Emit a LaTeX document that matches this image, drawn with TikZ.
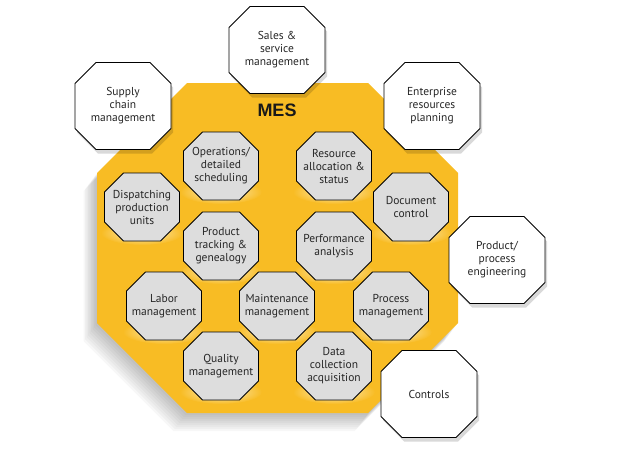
\documentclass[tikz,border=0pt]{standalone}
\usepackage{fontspec}
\setmainfont{PT Sans}
\newfontfamily\mesfont{Liberation Sans}
\usetikzlibrary{shadows,calc}
\definecolor{mesyellow}{HTML}{F8BC24}
\definecolor{modgray}{HTML}{DDDDDD}
\definecolor{glowyellow}{HTML}{FDF0CC}
\pgfdeclarelayer{back}
\pgfsetlayers{back,main}

% octagon box: a rectangle with cut corners
\makeatletter
\pgfkeys{/pgf/octa cut/.initial=20pt}
\pgfdeclareshape{octa box}{
  \inheritsavedanchors[from=rectangle]
  \inheritanchorborder[from=rectangle]
  \inheritanchor[from=rectangle]{center}
  \inheritanchor[from=rectangle]{north}
  \inheritanchor[from=rectangle]{south}
  \inheritanchor[from=rectangle]{east}
  \inheritanchor[from=rectangle]{west}
  \inheritanchor[from=rectangle]{north east}
  \inheritanchor[from=rectangle]{north west}
  \inheritanchor[from=rectangle]{south east}
  \inheritanchor[from=rectangle]{south west}
  \inheritanchor[from=rectangle]{base}
  \inheritanchor[from=rectangle]{mid}
  \inheritanchor[from=rectangle]{text}
  \savedmacro\octcut{\edef\octcut{\pgfkeysvalueof{/pgf/octa cut}}}
  \backgroundpath{%
    \southwest \edef\octxa{\the\pgf@x}\edef\octya{\the\pgf@y}%
    \northeast \edef\octxb{\the\pgf@x}\edef\octyb{\the\pgf@y}%
    \pgfmathsetlengthmacro\octc{\octcut}%
    \pgfpathmoveto{\pgfpoint{\octxa+\octc}{\octya}}%
    \pgfpathlineto{\pgfpoint{\octxb-\octc}{\octya}}%
    \pgfpathlineto{\pgfpoint{\octxb}{\octya+\octc}}%
    \pgfpathlineto{\pgfpoint{\octxb}{\octyb-\octc}}%
    \pgfpathlineto{\pgfpoint{\octxb-\octc}{\octyb}}%
    \pgfpathlineto{\pgfpoint{\octxa+\octc}{\octyb}}%
    \pgfpathlineto{\pgfpoint{\octxa}{\octyb-\octc}}%
    \pgfpathlineto{\pgfpoint{\octxa}{\octya+\octc}}%
    \pgfpathclose
  }
}
\makeatother

\begin{document}
\begin{tikzpicture}[x=1pt, y=-1pt,
  octa/.style={octa box, draw=black, line width=0.9pt, outer sep=0pt,
    align=center, inner sep=0pt, font=\fontsize{11.5}{13}\selectfont, text=black!85},
  inmod/.style={octa, octa cut=19pt, fill=modgray, minimum width=75pt, minimum height=68pt},
  outmod/.style={octa, octa cut=21pt, fill=white, minimum width=96pt, minimum height=87pt,
    drop shadow={shadow xshift=2pt, shadow yshift=-4pt, opacity=0.15, fill=black}},
  glow/.style={inner color=glowyellow, outer color=mesyellow}]
  \useasboundingbox (0,0) rectangle (620,452);

  % MES inner modules
  \node[inmod] (ops)   at (221,166) {Operations/\\detailed\\scheduling};
  \node[inmod] (res)   at (334,166) {Resource\\allocation \&\\status};
  \node[inmod] (disp)  at (142,207) {Dispatching\\production\\units};
  \node[inmod] (doc)   at (411,207) {Document\\control};
  \node[inmod] (track) at (221,246) {Product\\tracking \&\\genealogy};
  \node[inmod] (perf)  at (334,246) {Performance\\analysis};
  \node[inmod] (labor) at (164,306) {Labor\\management};
  \node[inmod] (maint) at (277,306) {Maintenance\\management};
  \node[inmod] (proc)  at (391,306) {Process\\management};
  \node[inmod] (qual)  at (221,366) {Quality\\management};
  \node[inmod] (data)  at (334,366) {Data\\collection\\acquisition};

  \node[font=\mesfont\bfseries\fontsize{18}{18}\selectfont, text=black!90] (mes) at (277,110) {MES};

  % yellow MES body, its shadow and the glows
  \begin{pgfonlayer}{back}
    \foreach \s in {1,...,9}
      \fill[black, opacity=0.03, shift={(-1.5*\s,2*\s)}]
        (187,83) -- (368,83) -- (458,173) -- (458,323) -- (368,413) -- (187,413) -- (97,323) -- (97,173) -- cycle;
    \fill[mesyellow] (187,83) -- (368,83) -- (458,173) -- (458,323) -- (368,413) -- (187,413) -- (97,323) -- (97,173) -- cycle;
    \foreach \m in {ops,res,disp,doc,track,perf,labor,maint,proc,qual,data}
      \shade[glow] ($(\m.south)+(0,-8)$) ellipse (41 and 12);
  \end{pgfonlayer}

  % surrounding systems
  \node[outmod] (sales)  at (277,50)  {Sales \&\\service\\management};
  \node[outmod] (supply) at (123,106) {Supply\\chain\\management};
  \node[outmod] (erp)    at (432,106) {Enterprise\\resources\\planning};
  \node[outmod] (eng)    at (497,260) {Product/\\process\\engineering};
  \node[outmod] (ctrl)   at (429,394) {Controls};
\end{tikzpicture}
\end{document}
